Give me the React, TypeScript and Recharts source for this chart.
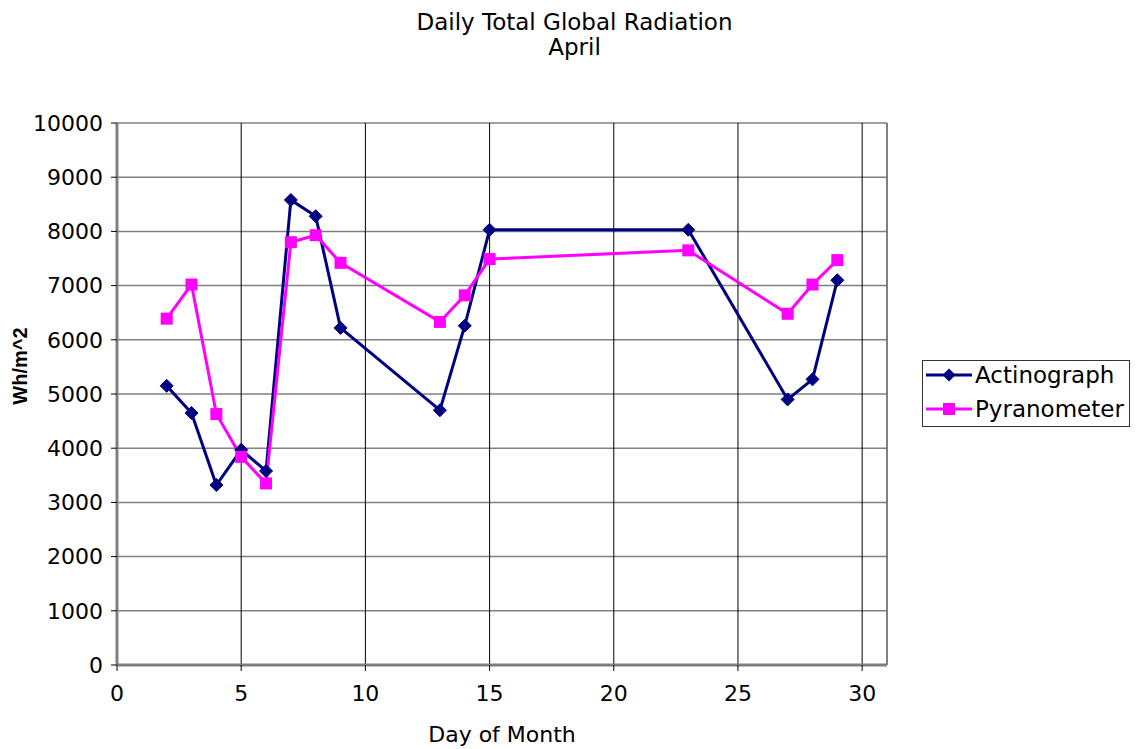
import { LineChart, Line, XAxis, YAxis, CartesianGrid, ReferenceLine } from 'recharts';

const days = [2, 3, 4, 5, 6, 7, 8, 9, 13, 14, 15, 23, 27, 28, 29];
const actinograph = [5150, 4650, 3320, 3970, 3580, 8580, 8280, 6220, 4700, 6260, 8030, 8030, 4900, 5270, 7100];
const pyranometer = [6390, 7020, 4630, 3840, 3350, 7800, 7930, 7420, 6330, 6820, 7490, 7650, 6480, 7020, 7470];
const xTicks = [0, 5, 10, 15, 20, 25, 30];
const yTicks = [0, 1000, 2000, 3000, 4000, 5000, 6000, 7000, 8000, 9000, 10000];

const NAVY = '#000080';
const MAGENTA = '#ff00ff';
const FONT = '"DejaVu Sans", Arial, sans-serif';

const data = days.map((d, i) => ({ day: d, act: actinograph[i], pyr: pyranometer[i] }));

const Diamond = (props: any) => {
  const { cx, cy, index } = props;
  if (cx == null || cy == null) return <g key={`d${index}`} />;
  const r = 6.5;
  return (
    <path
      key={`d${index}`}
      d={`M${cx},${cy - r}L${cx + r},${cy}L${cx},${cy + r}L${cx - r},${cy}Z`}
      fill={NAVY}
      stroke={NAVY}
      strokeWidth={1}
      strokeLinejoin="round"
    />
  );
};

const Square = (props: any) => {
  const { cx, cy, index } = props;
  if (cx == null || cy == null) return <g key={`s${index}`} />;
  const s = 6;
  return <rect key={`s${index}`} x={cx - s} y={cy - s} width={s * 2} height={s * 2} fill={MAGENTA} />;
};

const legendItems = [
  { name: 'Actinograph', color: NAVY, shape: 'diamond' },
  { name: 'Pyranometer', color: MAGENTA, shape: 'square' },
];

const LegendBox = () => (
  <div
    style={{
      position: 'absolute',
      left: 922,
      top: 360,
      width: 206,
      height: 65,
      border: '1px solid #333',
      background: '#fff',
      fontFamily: FONT,
      fontSize: 23,
      color: '#000',
    }}
  >
    {legendItems.map((e) => (
      <div key={e.name} style={{ display: 'flex', alignItems: 'center', height: 32, marginTop: e.shape === 'diamond' ? -2 : 2 }}>
        <svg width={48} height={20} style={{ marginLeft: 3, flexShrink: 0 }}>
          <line x1={0} y1={10} x2={46} y2={10} stroke={e.color} strokeWidth={3} />
          {e.shape === 'diamond' ? (
            <path d="M23,3.5L29.5,10L23,16.5L16.5,10Z" fill={e.color} />
          ) : (
            <rect x={17} y={4} width={12} height={12} fill={e.color} />
          )}
        </svg>
        <span style={{ marginLeft: 1, whiteSpace: 'nowrap' }}>{e.name}</span>
      </div>
    ))}
  </div>
);

export default function App() {
  return (
    <div style={{ position: 'absolute', left: 0, top: 0, width: 1136, height: 749, background: '#fff', fontFamily: FONT }}>
      <div style={{ position: 'absolute', left: 0, top: 10, width: 1149, textAlign: 'center', fontSize: 23, lineHeight: '25px' }}>
        Daily Total Global Radiation
        <br />
        April
      </div>
      <div
        style={{
          position: 'absolute',
          left: 20,
          top: 366,
          transform: 'translate(-50%, -50%) rotate(-90deg)',
          fontSize: 20,
          fontWeight: 'bold',
          fontFamily: '"Liberation Sans", Arial, sans-serif',
          whiteSpace: 'nowrap',
        }}
      >
        Wh/m^2
      </div>
      <LineChart width={1136} height={749} data={data} margin={{ top: 123, right: 249, bottom: 0, left: 0 }}>
        <CartesianGrid vertical={false} stroke="#808080" strokeWidth={1.5} />
        <CartesianGrid horizontal={false} stroke="#000" strokeWidth={1} />
        <ReferenceLine x={31} stroke="#808080" strokeWidth={1.5} />
        <XAxis
          type="number"
          dataKey="day"
          domain={[0, 31]}
          ticks={xTicks}
          interval={0}
          height={84}
          tickSize={6}
          tickMargin={14}
          axisLine={{ stroke: '#808080', strokeWidth: 3 }}
          tickLine={{ stroke: '#000' }}
          tick={{ fill: '#000', fontSize: 22, fontFamily: FONT }}
          label={{ value: 'Day of Month', position: 'insideBottom', offset: 7, fill: '#000', fontSize: 22, fontFamily: FONT }}
        />
        <YAxis
          type="number"
          domain={[0, 10000]}
          ticks={yTicks}
          interval={0}
          width={117}
          tickSize={6}
          tickMargin={8}
          axisLine={{ stroke: '#808080', strokeWidth: 3 }}
          tickLine={{ stroke: '#000' }}
          tick={{ fill: '#000', fontSize: 22, fontFamily: FONT }}
        />
        <Line
          type="linear"
          dataKey="act"
          name="Actinograph"
          stroke={NAVY}
          strokeWidth={3}
          dot={Diamond}
          activeDot={false}
          isAnimationActive={false}
        />
        <Line
          type="linear"
          dataKey="pyr"
          name="Pyranometer"
          stroke={MAGENTA}
          strokeWidth={3}
          dot={Square}
          activeDot={false}
          isAnimationActive={false}
        />
      </LineChart>
      <LegendBox />
    </div>
  );
}
